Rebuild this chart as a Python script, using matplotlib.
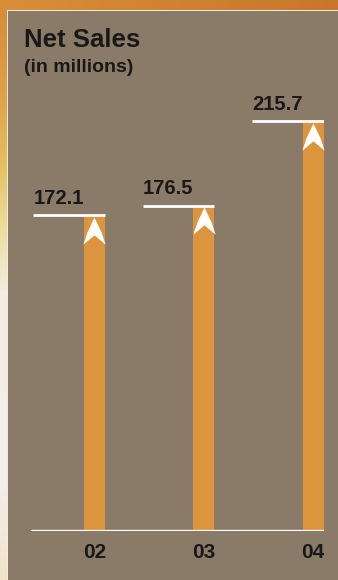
import numpy as np
import matplotlib
matplotlib.use("Agg")
from matplotlib import pyplot as plt
from matplotlib.path import Path
from matplotlib.patches import Rectangle

years = ["02", "03", "04"]
net_sales = [172.1, 176.5, 215.7]

panel_col = "#8a7a68"
bar_col = "#dc953c"
text_col = "#1a1817"

plt.rcParams['font.family'] = ['Liberation Sans', 'DejaVu Sans']

W, H = 338, 580
fig = plt.figure(figsize=(W / 100, H / 100), dpi=100)

# background: orange/cream gradient frame
bg = fig.add_axes([0, 0, 1, 1])
bg.set_axis_off()
yy = np.arange(H)
stops_y = [0, 90, 160, 230, 290, 480, 580]
stops_c = np.array([[214, 138, 52], [222, 160, 70], [228, 190, 95],
                    [236, 222, 160], [242, 236, 225], [243, 238, 236],
                    [240, 228, 200]]) / 255
left = np.stack([np.interp(yy, stops_y, stops_c[:, i]) for i in range(3)], axis=1)
img = np.repeat(left[:, None, :], W, axis=1)
xx = np.arange(W)
top = np.stack([np.interp(xx, [0, W], [a, b]) for a, b in
                zip(np.array([217, 143, 55]) / 255, np.array([200, 118, 45]) / 255)], axis=1)
img[:11, :, :] = top[None, :, :]
bg.imshow(img, extent=[0, W, H, 0], aspect='auto')
bg.set_xlim(0, W)
bg.set_ylim(H, 0)
bg.add_patch(Rectangle((7, 10), W, H, facecolor="#f4ead8", edgecolor="none"))
bg.add_patch(Rectangle((8, 11), W, H, facecolor=panel_col, edgecolor="none"))

bg.text(24, 47, "Net Sales", fontsize=18.5, fontweight="bold", color=text_col, va="baseline")
bg.text(24, 72, "(in millions)", fontsize=14, fontweight="bold", color=text_col, va="baseline")

# plot axes: baseline at y=531px, bars centred at 94.5, 204.5, 313.5
ax_l, ax_r = 31, 324
ax_b, ax_t = 531, 100
ax = fig.add_axes([ax_l / W, 1 - ax_b / H, (ax_r - ax_l) / W, (ax_b - ax_t) / H])
ax.set_axis_off()
x = np.arange(len(years))
ax.set_xlim(-0.58, 2.1)
ax.set_ylim(26, 26 + (ax_b - ax_t) / 2.16)

bw = 21 / 110
ax.bar(x, net_sales, width=bw, color=bar_col, bottom=0)
ax.axhline(26, color="white", lw=2.4, xmin=0, xmax=1)

# white reference line and value label above each bar
line_len = 72 / 110
for xi, v in zip(x, net_sales):
    x1 = xi + bw / 2
    ax.plot([x1 - line_len, x1], [v, v], color="white", lw=2, solid_capstyle="butt")
    ax.text(x1 - line_len, v + 3.5, f"{v:.1f}", fontsize=14.5, fontweight="bold",
            color=text_col, ha="left", va="bottom")
    ax.text(xi, 26 - 5.5, years[xi], fontsize=15, fontweight="bold",
            color=text_col, ha="center", va="top")

# arrow marker at bar top
arrow = Path([(0, 0), (-0.26, -0.55), (-0.41, -1), (0, -0.66), (0.41, -1), (0.26, -0.55), (0, 0)],
             [Path.MOVETO, Path.LINETO, Path.LINETO, Path.LINETO, Path.LINETO, Path.LINETO, Path.CLOSEPOLY])
ax.plot(x, [v - 0.6 for v in net_sales], linestyle="none", marker=arrow,
        markersize=39, color="white", markeredgewidth=0)

fig.savefig("out.png", dpi=100)
